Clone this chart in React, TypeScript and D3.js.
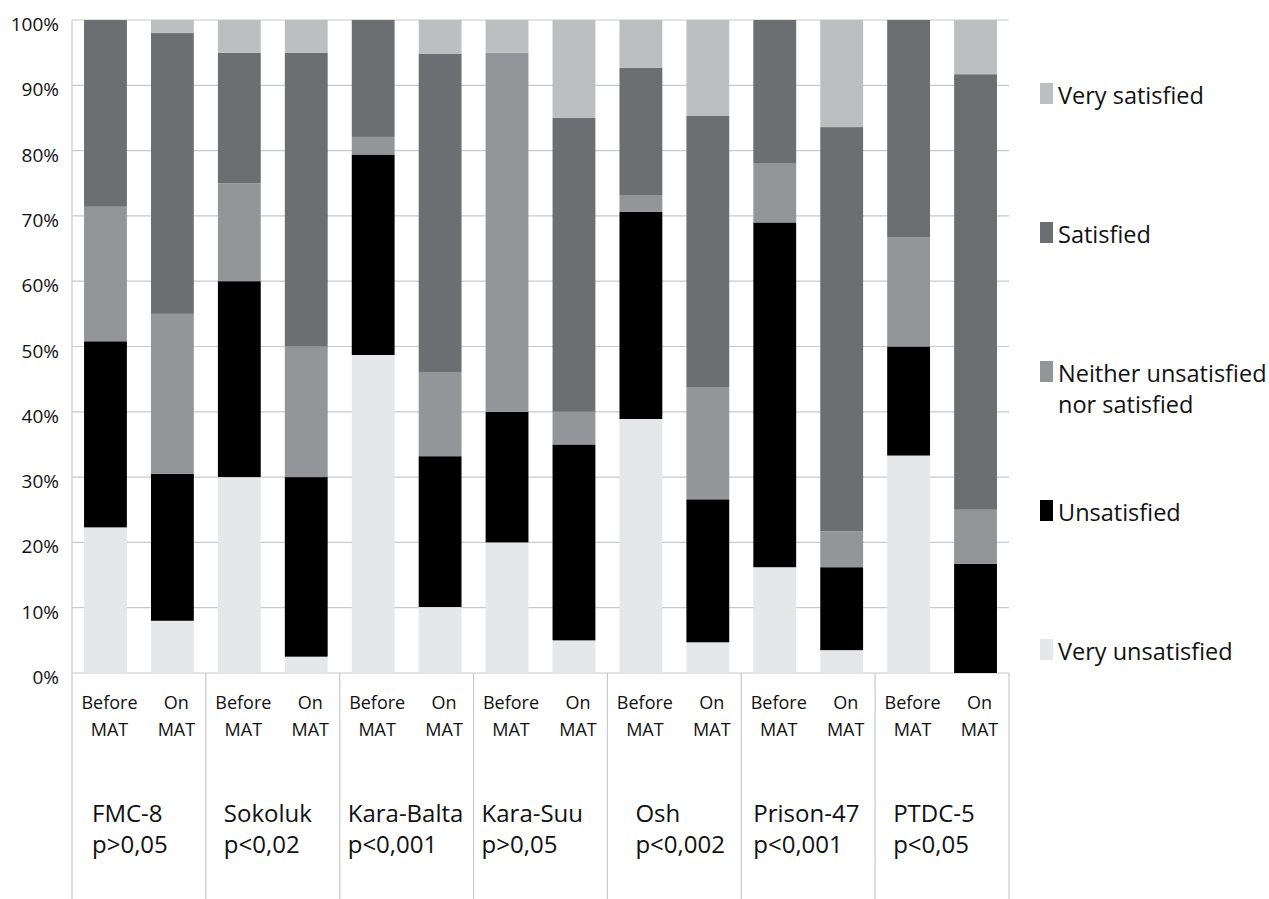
import React from "react";
import * as d3 from "d3";

const groups = ["FMC-8", "Sokoluk", "Kara-Balta", "Kara-Suu", "Osh", "Prison-47", "PTDC-5"];
const pValues = ["p>0,05", "p<0,02", "p<0,001", "p>0,05", "p<0,002", "p<0,001", "p<0,05"];
const periods = ["Before", "On"];
const periodSub = "MAT";

const seriesNames = ["Very unsatisfied", "Unsatisfied", "Neither unsatisfied nor satisfied", "Satisfied", "Very satisfied"];
const veryUnsatisfied = [22.3, 8, 30, 2.5, 48.7, 10.1, 20, 5, 38.9, 4.7, 16.2, 3.5, 33.3, 0];
const unsatisfied = [28.5, 22.5, 30, 27.5, 30.7, 23.1, 20, 30, 31.7, 21.9, 52.8, 12.7, 16.7, 16.7];
const neither = [20.6, 24.5, 15, 20, 2.7, 12.9, 55, 5, 2.6, 17.2, 9.1, 5.5, 16.7, 8.3];
const satisfied = [28.6, 43, 20, 45, 17.9, 48.7, 0, 45, 19.5, 41.5, 21.9, 61.9, 33.3, 66.7];
const verySatisfied = [0, 2, 5, 5, 0, 5.2, 5, 15, 7.3, 14.7, 0, 16.4, 0, 8.3];
const yTicks = [0, 10, 20, 30, 40, 50, 60, 70, 80, 90, 100];

// layout (not data)
const colors = ["#e6e7e8", "#000000", "#939598", "#6d6e71", "#bcbec0"];
const groupLabelDx = [20, 18, 8, 8, 28, 12, 18];
const FONT = "'Open Sans', 'Noto Sans', sans-serif";

export default function App() {
  const W = 1269, H = 899;
  const left = 72, right = 1009, top = 20, bottom = 673;

  const keys: string[] = [];
  groups.forEach((g) => periods.forEach((p) => keys.push(g + "|" + p)));

  const rows = keys.map((k, i) => ({
    key: k,
    s0: veryUnsatisfied[i],
    s1: unsatisfied[i],
    s2: neither[i],
    s3: satisfied[i],
    s4: verySatisfied[i],
  }));

  const stack = d3.stack<any>().keys(["s0", "s1", "s2", "s3", "s4"]);
  const stacked = stack(rows);

  const x = d3.scaleBand<string>().domain(keys).range([left, right]).paddingInner(0.36).paddingOuter(0.18);
  const y = d3.scaleLinear().domain([0, 100]).range([bottom, top]);
  const groupW = (right - left) / groups.length;

  const legendOrder = [4, 3, 2, 1, 0];
  const legendLabels: Record<number, string[]> = {
    4: ["Very satisfied"],
    3: ["Satisfied"],
    2: ["Neither unsatisfied", "nor satisfied"],
    1: ["Unsatisfied"],
    0: ["Very unsatisfied"],
  };

  return (
    <svg width={W} height={H} style={{ position: "absolute", left: 0, top: 0, background: "#fff" }} fontFamily={FONT}>
      {/* gridlines */}
      {yTicks.map((t) => (
        <line key={"g" + t} x1={left} x2={right} y1={y(t)} y2={y(t)} stroke="#c8c9ca" strokeWidth={1.2} />
      ))}
      {/* bars */}
      {stacked.map((layer, li) => (
        <g key={"l" + li} fill={colors[li]}>
          {layer.map((d: any, i: number) => {
            const h = y(d[0]) - y(d[1]);
            if (h <= 0) return null;
            return <rect key={i} x={x(keys[i])} y={y(d[1])} width={x.bandwidth()} height={h} />;
          })}
        </g>
      ))}
      {/* left axis line */}
      <line x1={left} x2={left} y1={top} y2={H} stroke="#c8c9ca" strokeWidth={1.2} />
      {/* group separators */}
      {groups.map((g, i) => (
        <line key={"s" + i} x1={left + (i + 1) * groupW} x2={left + (i + 1) * groupW} y1={bottom} y2={H} stroke="#c8c9ca" strokeWidth={1.2} />
      ))}
      {/* y tick labels */}
      {yTicks.map((t) => (
        <text key={"t" + t} x={59} y={y(t) + 11} textAnchor="end" fontSize={19} fill="#111">
          {t + "%"}
        </text>
      ))}
      {/* period labels */}
      {keys.map((k, i) => {
        const cx = (x(k) as number) + x.bandwidth() / 2 + 4;
        return (
          <g key={"p" + i} fontSize={18} fill="#111" textAnchor="middle">
            <text x={cx} y={709}>{periods[i % 2]}</text>
            <text x={cx} y={736}>{periodSub}</text>
          </g>
        );
      })}
      {/* group labels */}
      {groups.map((g, i) => (
        <g key={"gl" + i} fontSize={24} fill="#111">
          <text x={left + i * groupW + groupLabelDx[i]} y={822}>{g}</text>
          <text x={left + i * groupW + groupLabelDx[i]} y={853}>{pValues[i]}</text>
        </g>
      ))}
      {/* legend */}
      {legendOrder.map((si, j) => {
        const ty = 83 + j * 139;
        return (
          <g key={"lg" + si}>
            <rect x={1040} y={ty} width={13} height={21} fill={colors[si]} />
            {legendLabels[si].map((line, li) => (
              <text key={li} x={1058} y={ty + 21 + li * 31} fontSize={23.5} fill="#111">
                {line}
              </text>
            ))}
          </g>
        );
      })}
    </svg>
  );
}
